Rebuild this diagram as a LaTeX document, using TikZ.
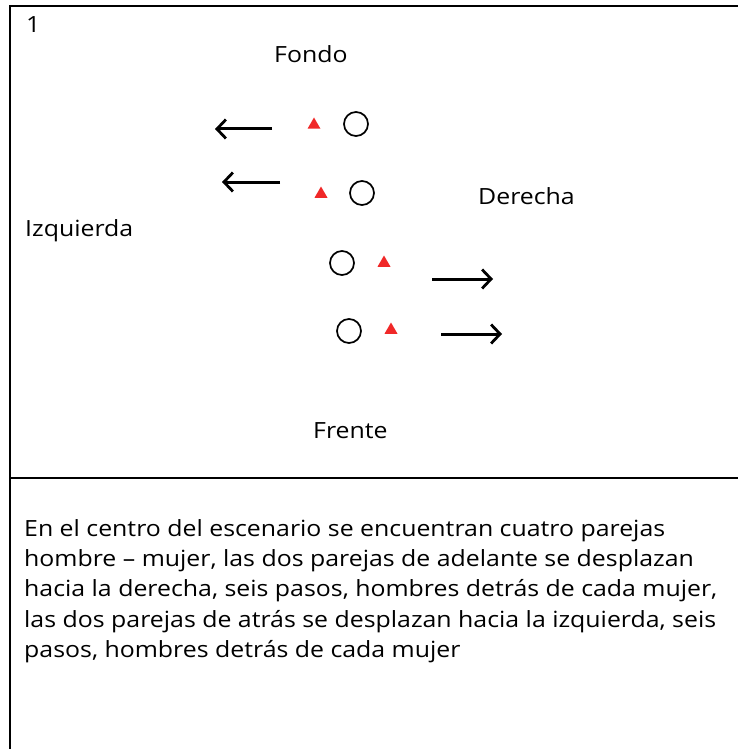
\documentclass[tikz,border=0pt]{standalone}
\usepackage{fontspec}
\setmainfont[FakeStretch=1.115]{Open Sans}
\usetikzlibrary{arrows.meta,shapes.geometric}
\begin{document}
\begin{tikzpicture}[x=1pt,y=-1pt,
  lbl/.style={font=\fontsize{22.3}{26}\selectfont,inner sep=0pt,anchor=base west},
  bodyline/.style={font=\fontsize{22.3}{26}\selectfont,inner sep=0pt,anchor=base west},
  woman/.style={circle,draw,line width=1.7pt,minimum size=24pt,inner sep=0pt},
  man/.style={regular polygon,regular polygon sides=3,fill={rgb,255:red,240;green,40;blue,40},minimum size=15pt,inner sep=0pt},
  move/.style={line width=3pt,-{Straight Barb[length=9pt,width=19pt,line width=2.8pt]}}]
\useasboundingbox (0,0) rectangle (738,749);
\draw[line width=2pt] (9.5,749) -- (9.5,6.5) -- (738,6.5);
\draw[line width=2pt] (9.5,477.5) -- (738,477.5);
\node[lbl] (num) at (26,33) {1};
\node[lbl] (fondo) at (274,63) {Fondo};
\node[lbl] (derecha) at (478,204) {Derecha};
\node[lbl] (izq) at (25,236) {Izquierda};
\node[lbl] (frente) at (313,438) {Frente};
% couples
\node[man] (m1) at (314,125) {};
\node[woman] (w1) at (356,124) {};
\node[man] (m2) at (321,194) {};
\node[woman] (w2) at (362,193) {};
\node[woman] (w3) at (342,263) {};
\node[man] (m3) at (384,263) {};
\node[woman] (w4) at (349,331) {};
\node[man] (m4) at (391,330) {};
% arrows
\coordinate (a1s) at (272,129); \coordinate (a1e) at (215,129);
\coordinate (a2s) at (280,182); \coordinate (a2e) at (222,182);
\coordinate (a3s) at (432,279); \coordinate (a3e) at (493,279);
\coordinate (a4s) at (441,334); \coordinate (a4e) at (502,334);
\draw[move] (a1s) -- (a1e);
\draw[move] (a2s) -- (a2e);
\draw[move] (a3s) -- (a3e);
\draw[move] (a4s) -- (a4e);
% body text
\node[bodyline] (t1) at (24,536) {En el centro del escenario se encuentran cuatro parejas};
\node[bodyline] (t2) at (24,566) {hombre – mujer, las dos parejas de adelante se desplazan};
\node[bodyline] (t3) at (24,596) {hacia la derecha, seis pasos, hombres detrás de cada mujer,};
\node[bodyline] (t4) at (24,627) {las dos parejas de atrás se desplazan hacia la izquierda, seis};
\node[bodyline] (t5) at (24,657) {pasos, hombres detrás de cada mujer};
\end{tikzpicture}
\end{document}
